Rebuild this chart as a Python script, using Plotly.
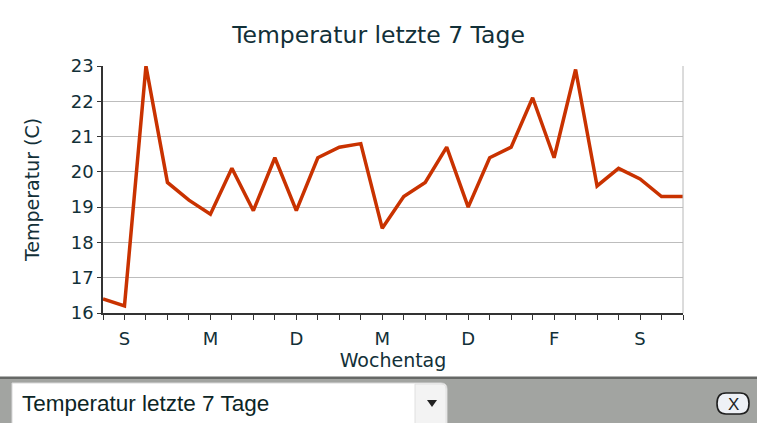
import plotly.graph_objects as go

# ---- data ----
temps = [16.4, 16.2, 23.0, 19.7, 19.2, 18.8, 20.1, 18.9, 20.4, 18.9,
         20.4, 20.7, 20.8, 18.4, 19.3, 19.7, 20.7, 19.0, 20.4, 20.7,
         22.1, 20.4, 22.9, 19.6, 20.1, 19.8, 19.3, 19.3]
day_labels = ["S", "M", "D", "M", "D", "F", "S"]
day_positions = [1, 5, 9, 13, 17, 21, 25]
y_ticks = [16, 17, 18, 19, 20, 21, 22, 23]
title_text = "Temperatur letzte 7 Tage"
x_title = "Wochentag"
y_title = "Temperatur (C)"
dropdown_text = "Temperatur letzte 7 Tage"

W, H = 757, 423
L, R, T, B = 103, 683, 66, 313  # plot area in px

idx = list(range(len(temps)))
ticktext = []
for i in idx:
    ticktext.append(day_labels[day_positions.index(i)] if i in day_positions else "")

def px(x):
    return (x - L) / (R - L)

def py(y):
    return (B - y) / (B - T)

TXT = "#123038"
fig = go.Figure()
fig.add_trace(go.Scatter(x=idx, y=temps, mode="lines",
                         line=dict(color="#c93200", width=3.5), hoverinfo="skip"))

shapes = []
# right border of plot
shapes.append(dict(type="line", xref="paper", yref="paper", x0=1, x1=1, y0=0, y1=1,
                   line=dict(color="#b8b8b8", width=1)))
# toolbar background
shapes.append(dict(type="rect", xref="paper", yref="paper", x0=px(0), x1=px(W), y0=py(H), y1=py(377),
                   fillcolor="#a2a4a1", line=dict(width=0), layer="above"))
shapes.append(dict(type="rect", xref="paper", yref="paper", x0=px(0), x1=px(W), y0=py(379), y1=py(376.5),
                   fillcolor="#666866", line=dict(width=0), layer="above"))
# dropdown box
x0d, x1d, y0d, y1d, r = 12, 447, 383, 425, 6
path = (f"M {px(x0d)},{py(y1d)} L {px(x0d)},{py(y0d)} L {px(x1d - r)},{py(y0d)} "
        f"Q {px(x1d)},{py(y0d)} {px(x1d)},{py(y0d + r)} L {px(x1d)},{py(y1d)} Z")
shapes.append(dict(type="path", xref="paper", yref="paper", path=path,
                   fillcolor="#ffffff", line=dict(color="#d8d8d8", width=1), layer="above"))
# arrow button area
path2 = (f"M {px(415)},{py(y1d)} L {px(415)},{py(y0d + 1)} L {px(x1d - r)},{py(y0d + 1)} "
         f"Q {px(x1d - 1)},{py(y0d + 1)} {px(x1d - 1)},{py(y0d + r)} L {px(x1d - 1)},{py(y1d)} Z")
shapes.append(dict(type="path", xref="paper", yref="paper", path=path2,
                   fillcolor="#f3f3f3", line=dict(color="#e0e0e0", width=1), layer="above"))
# triangle
tri = f"M {px(427)},{py(400)} L {px(437)},{py(400)} L {px(432)},{py(407)} Z"
shapes.append(dict(type="path", xref="paper", yref="paper", path=tri,
                   fillcolor="#222222", line=dict(width=0), layer="above"))
# X button (rounded)
bx0, bx1, by0, by1, br = 717, 749, 393, 414, 9
pb = (f"M {px(bx0 + br)},{py(by0)} L {px(bx1 - br)},{py(by0)} "
      f"Q {px(bx1)},{py(by0)} {px(bx1)},{py((by0 + by1) / 2)} "
      f"Q {px(bx1)},{py(by1)} {px(bx1 - br)},{py(by1)} L {px(bx0 + br)},{py(by1)} "
      f"Q {px(bx0)},{py(by1)} {px(bx0)},{py((by0 + by1) / 2)} "
      f"Q {px(bx0)},{py(by0)} {px(bx0 + br)},{py(by0)} Z")
shapes.append(dict(type="path", xref="paper", yref="paper", path=pb,
                   fillcolor="#eef1f6", line=dict(color="#1e1e1e", width=1.6), layer="above"))

annotations = [
    dict(text=dropdown_text, xref="paper", yref="paper", x=px(20), y=py(403.5),
         xanchor="left", yanchor="middle", showarrow=False,
         font=dict(family="Liberation Sans, Arial", size=22.5, color="#0c2525")),
    dict(text="X", xref="paper", yref="paper", x=px(733), y=py(404),
         xanchor="center", yanchor="middle", showarrow=False,
         font=dict(family="Liberation Sans, Arial", size=17, color="#222222")),
]

fig.update_layout(
    width=W, height=H,
    margin=dict(l=L, r=W - R, t=T, b=H - B, pad=0),
    paper_bgcolor="white", plot_bgcolor="white",
    font=dict(family="DejaVu Sans, Verdana", color=TXT),
    showlegend=False,
    title=dict(text=title_text, x=0.5, xref="container", xanchor="center",
               y=1 - 35 / H, yanchor="middle", font=dict(size=23.5, color=TXT)),
    xaxis=dict(range=[0, len(temps) - 1], tickmode="array", tickvals=idx, ticktext=ticktext,
               ticks="outside", ticklen=5, tickcolor="#333333", tickwidth=1,
               showline=True, linecolor="#333333", linewidth=1.5,
               showgrid=False, zeroline=False, tickfont=dict(size=18, color=TXT),
               ticklabelstandoff=4,
               title=dict(text=x_title, font=dict(size=19, color=TXT), standoff=0)),
    yaxis=dict(range=[16, 23], tickmode="array", tickvals=y_ticks,
               ticks="outside", ticklen=4, tickcolor="#333333",
               showline=True, linecolor="#333333", linewidth=1.5,
               showgrid=True, gridcolor="#bdbdbd", gridwidth=1, zeroline=False,
               tickfont=dict(size=18, color=TXT),
               title=dict(text=y_title, font=dict(size=19, color=TXT), standoff=26)),
    shapes=shapes, annotations=annotations,
)

fig.write_html("out.html")
